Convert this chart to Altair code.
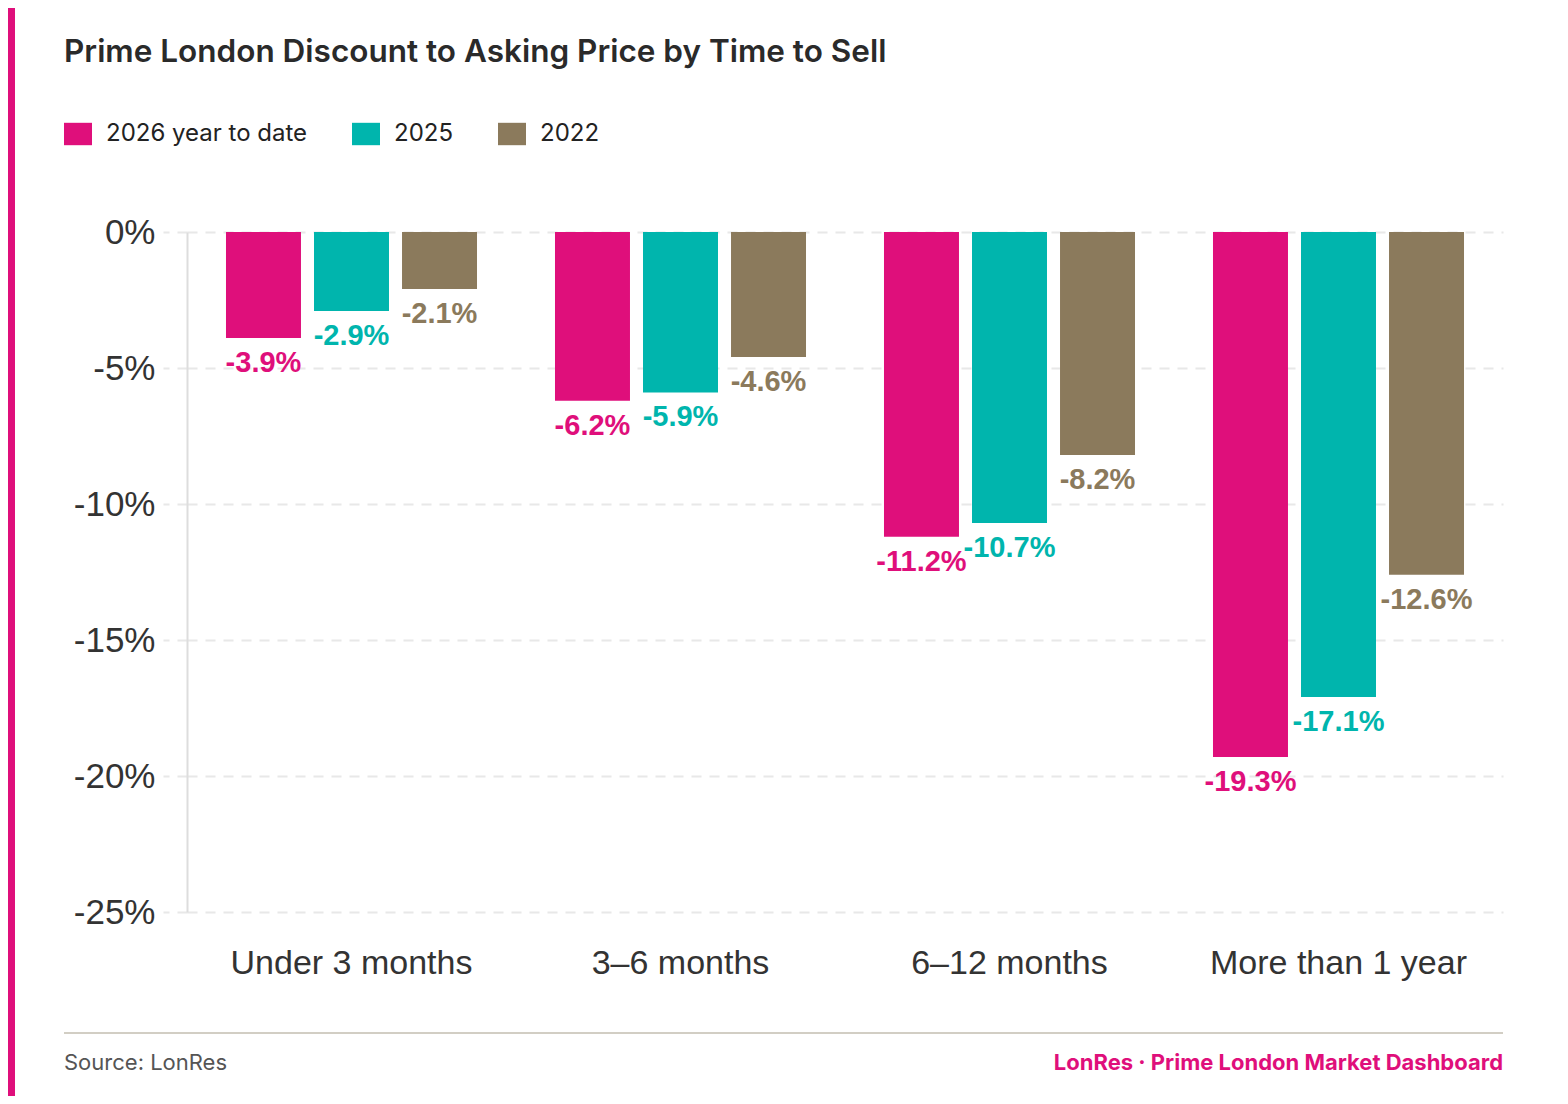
import pandas as pd
import altair as alt

# data
categories = ["Under 3 months", "3–6 months", "6–12 months", "More than 1 year"]
series = ["2026 year to date", "2025", "2022"]
colors = ["#DF0F7B", "#00B5AD", "#8B7A5C"]
v2026 = [-3.9, -6.2, -11.2, -19.3]
v2025 = [-2.9, -5.9, -10.7, -17.1]
v2022 = [-2.1, -4.6, -8.2, -12.6]

title_text = "Prime London Discount to Asking Price by Time to Sell"
source_text = "Source: LonRes"
brand_text = "LonRes · Prime London Market Dashboard"

rows = []
for s, vals in zip(series, [v2026, v2025, v2022]):
    for c, v in zip(categories, vals):
        rows.append({"category": c, "series": s, "value": v, "label": f"{v:.1f}%"})
df = pd.DataFrame(rows)

W, H = 1316, 680
one = pd.DataFrame({"t": [title_text], "s": [source_text], "b": [brand_text]})

color = alt.Color("series:N", sort=series,
                  scale=alt.Scale(domain=series, range=colors),
                  legend=alt.Legend(orient="none", legendX=-123, legendY=-112,
                                    direction="horizontal", title=None,
                                    symbolType="M-1,-0.8H1V0.8H-1Z", symbolSize=784,
                                    symbolStrokeWidth=0, symbolOpacity=1,
                                    labelFont="Inter", labelFontSize=24, labelColor="#222222",
                                    labelOffset=14, columnPadding=44, labelLimit=0))

x = alt.X("category:N", sort=categories, title=None,
          scale=alt.Scale(paddingInner=0, paddingOuter=0),
          axis=alt.Axis(labelFont="Liberation Sans", labelFontSize=34, labelColor="#333333",
                        labelPadding=34, ticks=False, domain=False, labelAngle=0,
                        labelLimit=0))
xo = alt.XOffset("series:N", sort=series,
                 scale=alt.Scale(paddingInner=0.148, paddingOuter=0.443))
y = alt.Y("value:Q", title=None,
          scale=alt.Scale(domain=[-25, 0], nice=False),
          axis=alt.Axis(values=[0, -5, -10, -15, -20, -25], labelExpr="datum.value + '%'",
                        labelFont="Liberation Sans", labelFontSize=35, labelColor="#333333",
                        labelPadding=8, tickSize=24, tickColor="#e8e8e8", tickWidth=2,
                        tickDash=[10, 8], domainColor="#dddddd", domainWidth=2,
                        gridColor="#e8e8e8", gridWidth=2, gridDash=[10, 8]))

bars = alt.Chart(df).mark_bar().encode(x=x, xOffset=xo, y=y, color=color)

labels = alt.Chart(df).mark_text(font="Liberation Sans", fontSize=29, fontWeight="bold",
                                 baseline="middle", dy=25).encode(
    x=x, xOffset=xo, y=y, text="label:N",
    color=alt.Color("series:N", sort=series,
                    scale=alt.Scale(domain=series, range=colors), legend=None))

title = alt.Chart(one).mark_text(font="Inter", fontSize=31.5, fontWeight=600, color="#2a2a2a",
                                 align="left", baseline="alphabetic").encode(
    x=alt.value(-123), y=alt.value(-170), text="t:N")

side = alt.Chart(one).mark_rect(color="#DF0F7B").encode(
    x=alt.value(-179), x2=alt.value(-172), y=alt.value(-224), y2=alt.value(864))

rule = alt.Chart(one).mark_rule(color="#d2cec4", strokeWidth=2).encode(
    x=alt.value(-123), x2=alt.value(W), y=alt.value(801))

source = alt.Chart(one).mark_text(font="Inter", fontSize=22, color="#555555",
                                  align="left", baseline="middle").encode(
    x=alt.value(-123), y=alt.value(831), text="s:N")

brand = alt.Chart(one).mark_text(font="Inter", fontSize=22, fontWeight="bold", color="#DF0F7B",
                                 align="right", baseline="middle").encode(
    x=alt.value(W), y=alt.value(831), text="b:N")

chart = alt.layer(side, bars, labels, title, rule, source, brand).properties(
    width=W, height=H,
    autosize=alt.AutoSizeParams(type="none"),
    padding={"left": 179, "top": 224, "right": 57, "bottom": 184},
    background="white",
).configure_view(stroke=None)

chart.save("out.html", embed_options={"renderer": "svg", "actions": False})
